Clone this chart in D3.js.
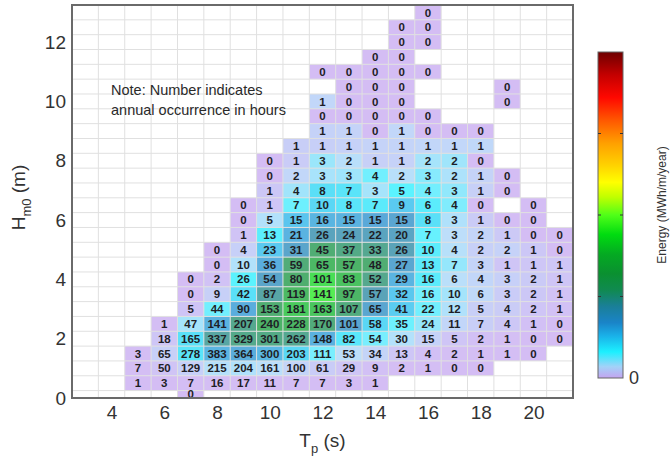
<!DOCTYPE html>
<html>
<head>
<meta charset="utf-8">
<script src="https://cdn.jsdelivr.net/npm/d3@7"></script>
<style>
  html, body { margin: 0; padding: 0; background: #fff; }
  svg { display: block; font-family: "Liberation Sans", Arial, Helvetica, sans-serif; }
</style>
</head>
<body>
<svg id="chart" width="670" height="456"></svg>
<script>
// Peak period bins (s) – one column per bin
const periods = [5, 6, 7, 8, 9, 10, 11, 12, 13, 14, 15, 16, 17, 18, 19, 20, 21];
// Significant wave height bins (m) – one row per bin, bottom to top
const heights = [0, 0.5, 1, 1.5, 2, 2.5, 3, 3.5, 4, 4.5, 5, 5.5, 6, 6.5, 7, 7.5, 8, 8.5, 9, 9.5, 10, 10.5, 11, 11.5, 12, 12.5, 13];

const _ = null; // no occurrence in this bin

// Annual occurrence (hours) per Hm0 row, columns follow `periods`
const hours = [
  [_, _, 0, _, _, _, _, _, _, _, _, _, _, _, _, _, _],
  [1, 3, 7, 16, 17, 11, 7, 7, 3, 1, _, _, _, _, _, _, _],
  [7, 50, 129, 215, 204, 161, 100, 61, 29, 9, 2, 1, 0, 0, _, _, _],
  [3, 65, 278, 383, 364, 300, 203, 111, 53, 34, 13, 4, 2, 1, 1, 0, _],
  [_, 18, 165, 337, 329, 301, 262, 148, 82, 54, 30, 15, 5, 2, 1, 0, 0],
  [_, 1, 47, 141, 207, 240, 228, 170, 101, 58, 35, 24, 11, 7, 4, 1, 0],
  [_, _, 5, 44, 90, 153, 181, 163, 107, 65, 41, 22, 12, 5, 4, 2, 1],
  [_, _, 0, 9, 42, 87, 119, 141, 97, 57, 32, 16, 10, 6, 3, 2, 1],
  [_, _, 0, 2, 26, 54, 80, 101, 83, 52, 29, 16, 6, 4, 3, 2, 1],
  [_, _, _, 0, 10, 36, 59, 65, 57, 48, 27, 13, 7, 3, 1, 1, 1],
  [_, _, _, 0, 4, 23, 31, 45, 37, 33, 26, 10, 4, 2, 2, 1, 0],
  [_, _, _, _, 1, 13, 21, 26, 24, 22, 20, 7, 3, 2, 1, 0, 0],
  [_, _, _, _, 0, 5, 15, 16, 15, 15, 15, 8, 3, 1, 0, 0, _],
  [_, _, _, _, 0, 1, 7, 10, 8, 7, 9, 6, 4, 0, _, 0, _],
  [_, _, _, _, _, 1, 4, 8, 7, 3, 5, 4, 3, 1, 0, _, _],
  [_, _, _, _, _, 0, 2, 3, 3, 4, 2, 3, 2, 1, 0, _, _],
  [_, _, _, _, _, 0, 1, 3, 2, 1, 1, 2, 2, 0, _, _, _],
  [_, _, _, _, _, _, 1, 1, 1, 1, 1, 1, 1, 1, _, _, _],
  [_, _, _, _, _, _, _, 1, 1, 0, 1, 0, 0, 0, _, _, _],
  [_, _, _, _, _, _, _, 0, 0, 0, 0, 0, _, _, _, _, _],
  [_, _, _, _, _, _, _, 1, 0, 0, 0, _, _, _, 0, _, _],
  [_, _, _, _, _, _, _, _, 0, 0, 0, _, _, _, 0, _, _],
  [_, _, _, _, _, _, _, 0, 0, 0, 0, 0, _, _, _, _, _],
  [_, _, _, _, _, _, _, _, _, 0, 0, _, _, _, _, _, _],
  [_, _, _, _, _, _, _, _, _, _, 0, 0, _, _, _, _, _],
  [_, _, _, _, _, _, _, _, _, _, 0, 0, _, _, _, _, _],
  [_, _, _, _, _, _, _, _, _, _, _, 0, _, _, _, _, _]
];

// Annual energy (MWh/m/year) per bin, same layout as `hours`
const energy = [
  [_, _, 0, _, _, _, _, _, _, _, _, _, _, _, _, _, _],
  [0, 0, 0.01, 0.01, 0.02, 0.01, 0.01, 0.01, 0, 0, _, _, _, _, _, _, _],
  [0.02, 0.13, 0.40, 0.76, 0.81, 0.71, 0.48, 0.32, 0.17, 0.06, 0.01, 0.01, 0, 0, _, _, _],
  [0.01, 0.39, 1.93, 3.03, 3.24, 2.97, 2.21, 1.32, 0.68, 0.47, 0.19, 0.06, 0.03, 0.02, 0.02, 0, _],
  [_, 0.19, 2.03, 4.74, 5.21, 5.30, 5.07, 3.13, 1.88, 1.33, 0.79, 0.42, 0.15, 0.06, 0.03, 0, 0],
  [_, 0.02, 0.90, 3.10, 5.12, 6.60, 6.90, 5.61, 3.61, 2.23, 1.44, 1.06, 0.51, 0.35, 0.21, 0.06, 0],
  [_, _, 0.14, 1.39, 3.21, 6.06, 7.88, 7.75, 5.51, 3.60, 2.44, 1.39, 0.81, 0.36, 0.30, 0.16, 0.08],
  [_, _, 0, 0.39, 2.04, 4.69, 7.06, 9.12, 6.80, 4.30, 2.59, 1.38, 0.92, 0.58, 0.31, 0.22, 0.11],
  [_, _, 0, 0.11, 1.65, 3.80, 6.20, 8.53, 7.60, 5.13, 3.06, 1.80, 0.72, 0.51, 0.40, 0.28, 0.15],
  [_, _, _, 0, 0.80, 3.21, 5.78, 6.95, 6.60, 5.99, 3.61, 1.85, 1.06, 0.48, 0.17, 0.18, 0.19],
  [_, _, _, 0, 0.40, 2.53, 3.75, 5.94, 5.29, 5.08, 4.29, 1.76, 0.75, 0.40, 0.42, 0.22, 0],
  [_, _, _, _, 0.12, 1.73, 3.07, 4.15, 4.15, 4.10, 3.99, 1.49, 0.68, 0.48, 0.25, 0, 0],
  [_, _, _, _, 0, 0.79, 2.61, 3.04, 3.09, 3.33, 3.56, 2.03, 0.81, 0.29, 0, 0, _],
  [_, _, _, _, 0, 0.19, 1.43, 2.23, 1.93, 1.82, 2.51, 1.78, 1.26, 0, _, 0, _],
  [_, _, _, _, _, 0.22, 0.95, 2.07, 1.96, 0.91, 1.62, 1.38, 1.10, 0.39, 0, _, _],
  [_, _, _, _, _, 0, 0.54, 0.89, 0.97, 1.39, 0.74, 1.19, 0.84, 0.45, 0, _, _],
  [_, _, _, _, _, 0, 0.31, 1.01, 0.73, 0.39, 0.42, 0.90, 0.96, 0, _, _, _],
  [_, _, _, _, _, _, 0.35, 0.38, 0.41, 0.45, 0.48, 0.51, 0.54, 0.57, _, _, _],
  [_, _, _, _, _, _, _, 0.43, 0.46, 0, 0.53, 0, 0, 0, _, _, _],
  [_, _, _, _, _, _, _, 0, 0, 0, 0, 0, _, _, _, _, _],
  [_, _, _, _, _, _, _, 0.53, 0, 0, 0, _, _, _, 0, _, _],
  [_, _, _, _, _, _, _, _, 0, 0, 0, _, _, _, 0, _, _],
  [_, _, _, _, _, _, _, 0, 0, 0, 0, 0, _, _, _, _, _],
  [_, _, _, _, _, _, _, _, _, 0, 0, _, _, _, _, _, _],
  [_, _, _, _, _, _, _, _, _, _, 0, 0, _, _, _, _, _],
  [_, _, _, _, _, _, _, _, _, _, 0, 0, _, _, _, _, _],
  [_, _, _, _, _, _, _, _, _, _, _, 0, _, _, _, _, _]
];

// Axis ticks and labels
const xTicks = [4, 6, 8, 10, 12, 14, 16, 18, 20];
const yTicks = [0, 2, 4, 6, 8, 10, 12];
const colorbarTicks = [5, 10, 15];
const colorbarLabels = ["0"];
const energyMax = 20;
const noteLines = ["Note: Number indicates", "annual occurrence in hours"];

// Colormap: lavender at zero, through cyan, blue, green, yellow, orange to dark red
const cmapStops = [0, 0.035, 0.08, 0.13, 0.17, 0.22, 0.27, 0.32, 0.38, 0.44, 0.50, 0.555, 0.60, 0.65, 0.72, 0.79, 0.86, 0.93, 1];
const cmapColors = ["#c4a4f0", "#a2d2f8", "#1cf0ff", "#1ab0e8", "#1a84c8", "#1a7f98", "#108a50", "#0a9030",
                    "#04aa22", "#00dc10", "#50ff18", "#c0ff00", "#ffff00", "#ffd400", "#ffa000", "#ff5800",
                    "#ff0800", "#c40000", "#6e0000"];

// ---- layout ----
const svg = d3.select("#chart");
const plot = { left: 72, top: 5, right: 573, bottom: 398 };
const cb = { left: 598, right: 623, top: 52, bottom: 378 };

const x = d3.scaleLinear().domain([2.5, 21.5]).range([plot.left, plot.right]);
const y = d3.scaleLinear().domain([0, 13.25]).range([plot.bottom, plot.top]);
const color = d3.scaleLinear()
  .domain(cmapStops.map(s => s * energyMax))
  .range(cmapColors)
  .interpolate(d3.interpolateRgb)
  .clamp(true);

// flatten bins into cell records
const cells = [];
heights.forEach((h, r) => {
  periods.forEach((t, c) => {
    const n = hours[r][c];
    if (n === null) return;
    const y0 = Math.max(h - 0.25, 0), y1 = Math.min(h + 0.25, 13.25);
    cells.push({ t, h, n, e: energy[r][c], y0, y1 });
  });
});

svg.append("defs").append("clipPath").attr("id", "plotClip")
  .append("rect")
  .attr("x", plot.left).attr("y", plot.top)
  .attr("width", plot.right - plot.left).attr("height", plot.bottom - plot.top);

const g = svg.append("g").attr("clip-path", "url(#plotClip)");

// coloured bins
g.selectAll("rect.cell").data(cells).join("rect")
  .attr("class", "cell")
  .attr("x", d => x(d.t - 0.5))
  .attr("y", d => y(d.y1))
  .attr("width", d => x(d.t + 0.5) - x(d.t - 0.5))
  .attr("height", d => y(d.y0) - y(d.y1))
  .attr("fill", d => color(d.e))
  .attr("fill-opacity", 0.72);

// bin grid
const vLines = d3.range(3.5, 21.5, 1);
const hLines = d3.range(0.25, 13.25, 0.5);
g.selectAll("line.v").data(vLines).join("line")
  .attr("x1", d => x(d)).attr("x2", d => x(d))
  .attr("y1", plot.top).attr("y2", plot.bottom)
  .attr("stroke", "#e0e0e0").attr("stroke-width", 1);
g.selectAll("line.h").data(hLines).join("line")
  .attr("y1", d => y(d)).attr("y2", d => y(d))
  .attr("x1", plot.left).attr("x2", plot.right)
  .attr("stroke", "#e0e0e0").attr("stroke-width", 1);

// occurrence numbers
svg.append("g").selectAll("text").data(cells).join("text")
  .attr("x", d => x(d.t))
  .attr("y", d => (y(d.y0) + y(d.y1)) / 2)
  .attr("dy", "0.36em")
  .attr("text-anchor", "middle")
  .attr("font-size", 11.5)
  .attr("font-weight", "bold")
  .attr("fill", "#1e1e26")
  .text(d => d.n);

// frame
svg.append("rect")
  .attr("x", plot.left).attr("y", plot.top)
  .attr("width", plot.right - plot.left).attr("height", plot.bottom - plot.top)
  .attr("fill", "none").attr("stroke", "#6a6a6a").attr("stroke-width", 2);

// axes (labels only)
const xAxis = svg.append("g")
  .attr("transform", `translate(0,${plot.bottom})`)
  .call(d3.axisBottom(x).tickValues(xTicks).tickSize(0).tickPadding(8));
const yAxis = svg.append("g")
  .attr("transform", `translate(${plot.left},0)`)
  .call(d3.axisLeft(y).tickValues(yTicks).tickSize(0).tickPadding(6));
[xAxis, yAxis].forEach(a => {
  a.select(".domain").remove();
  a.selectAll("text")
    .attr("font-size", 19)
    .attr("fill", "#333")
    .attr("font-family", "'Liberation Sans', Arial, sans-serif");
});

// axis titles
const xTitle = svg.append("text")
  .attr("x", (plot.left + plot.right) / 2).attr("y", 447)
  .attr("text-anchor", "middle").attr("font-size", 19).attr("fill", "#333");
xTitle.append("tspan").text("T");
xTitle.append("tspan").attr("font-size", 13).attr("dy", 6).text("p");
xTitle.append("tspan").attr("dy", -6).text(" (s)");

const yTitle = svg.append("text")
  .attr("transform", `translate(25,${(plot.top + plot.bottom) / 2 - 4}) rotate(-90)`)
  .attr("text-anchor", "middle").attr("font-size", 19).attr("fill", "#333");
yTitle.append("tspan").text("H");
yTitle.append("tspan").attr("font-size", 13).attr("dy", 6).text("m0");
yTitle.append("tspan").attr("dy", -6).text(" (m)");

// note
svg.append("g").selectAll("text").data(noteLines).join("text")
  .attr("x", 111)
  .attr("y", (d, i) => 94.5 + i * 20.5)
  .attr("font-size", 14.5)
  .attr("fill", "#2a2a2a")
  .text(d => d);

// colour bar
const grad = svg.select("defs").append("linearGradient")
  .attr("id", "cbGrad").attr("x1", 0).attr("y1", 1).attr("x2", 0).attr("y2", 0);
grad.selectAll("stop").data(cmapStops).join("stop")
  .attr("offset", d => d)
  .attr("stop-color", (d, i) => cmapColors[i]);

const cbScale = d3.scaleLinear().domain([0, energyMax]).range([cb.bottom, cb.top]);
svg.append("rect")
  .attr("x", cb.left).attr("y", cb.top)
  .attr("width", cb.right - cb.left).attr("height", cb.bottom - cb.top)
  .attr("fill", "url(#cbGrad)")
  .attr("stroke", "#666").attr("stroke-width", 1);

svg.append("g").selectAll("path").data(colorbarTicks).join("path")
  .attr("d", d => `M${cb.left},${cbScale(d)}h3M${cb.right},${cbScale(d)}h-3`)
  .attr("stroke", "#333").attr("stroke-width", 1);

svg.append("g").selectAll("text").data(colorbarLabels).join("text")
  .attr("x", cb.right + 6)
  .attr("y", cbScale(0))
  .attr("dy", "0.36em")
  .attr("font-size", 18)
  .attr("fill", "#333")
  .text(d => d);

svg.append("text")
  .attr("transform", `translate(666,205) rotate(-90)`)
  .attr("text-anchor", "middle")
  .attr("font-size", 12)
  .attr("fill", "#333")
  .text("Energy (MWh/m/year)");
</script>
</body>
</html>
